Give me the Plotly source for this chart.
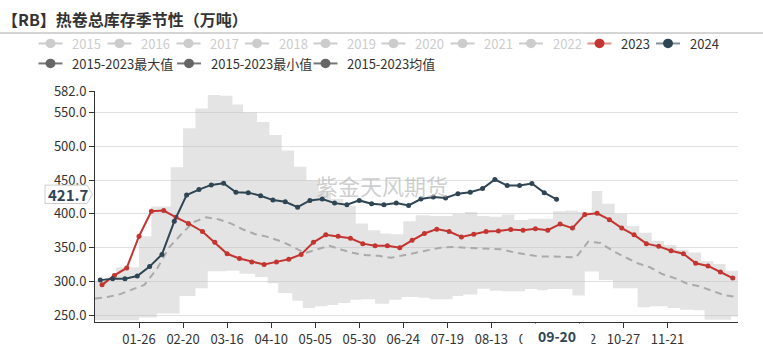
import plotly.graph_objects as go

# ---------------- data ----------------
YEAR = "2024-"   # seasonal axis on a leap-year calendar (MM-DD)

dates_2023 = ["01-05","01-12","01-19","01-26","02-02","02-09","02-16","02-23","03-02","03-09",
              "03-16","03-23","03-30","04-06","04-13","04-20","04-27","05-04","05-11","05-18",
              "05-25","06-01","06-08","06-15","06-22","06-29","07-06","07-13","07-20","07-27",
              "08-03","08-10","08-17","08-24","08-31","09-07","09-14","09-21","09-28","10-05",
              "10-12","10-19","10-26","11-02","11-09","11-16","11-23","11-30","12-07","12-14",
              "12-21","12-28"]
vals_2023 = [295, 309, 320, 367, 404, 405, 395, 386, 374, 358,
             341, 334, 329, 325, 329, 333, 340, 358, 369, 367,
             364, 356, 353, 353, 350, 361, 371, 377.5, 374, 366,
             370, 374, 374.6, 377, 376, 378, 376, 385, 379, 399,
             401, 391.5, 379, 369, 356, 352, 345.5, 341, 327, 323,
             314, 305]

dates_2024 = ["01-04","01-11","01-18","01-25","02-01","02-08","02-15","02-22","02-29","03-07",
              "03-14","03-21","03-28","04-04","04-11","04-18","04-25","05-02","05-09","05-16",
              "05-23","05-30","06-06","06-13","06-20","06-27","07-04","07-11","07-18","07-25",
              "08-01","08-08","08-15","08-22","08-29","09-05","09-12","09-19"]
vals_2024 = [302, 304, 304, 308, 322, 340, 389, 428, 436, 443,
             445.5, 432, 431.5, 427, 420.5, 418, 410, 420, 422, 416,
             413.5, 420, 415, 413.5, 416, 412.5, 422, 425, 423.5, 430,
             432, 437.5, 451, 442, 442, 445, 431.5, 421.7]

mean_dates = ["01-01","01-08","01-15","01-22","01-29","02-05","02-12","02-19","02-26","03-04",
              "03-11","03-18","03-25","04-01","04-08","04-15","04-22","04-29","05-06","05-13",
              "05-20","05-27","06-03","06-10","06-17","06-24","07-01","07-08","07-15","07-22",
              "07-29","08-05","08-12","08-19","08-26","09-02","09-09","09-16","09-23","09-30",
              "10-07","10-14","10-21","10-28","11-04","11-11","11-18","11-25","12-02","12-09",
              "12-16","12-23","12-30"]
mean_vals = [274.6, 277, 281, 287.5, 295, 318, 350, 370, 388, 395,
             392, 386, 377, 370, 366, 360, 352, 342, 347, 353,
             347, 342, 339, 338, 335, 339, 343, 347, 350, 351,
             350, 349, 348, 347.5, 343, 340, 337, 337, 336.5, 335.5,
             359, 357, 345, 336, 327, 321, 311, 305, 297, 293,
             286, 280, 277]

max_dates = ["01-01","01-13","01-26","02-02","02-13","02-20","02-27","03-05","03-12","03-19",
             "03-25","04-02","04-09","04-16","04-23","04-30","05-07","05-14","05-21","05-28",
             "06-04","06-11","06-17","06-24","07-01","07-09","07-22","07-29","08-05","08-12",
             "08-19","08-26","09-03","09-17","09-24","10-01","10-09","10-15","10-22","10-29",
             "11-05","11-12","11-19","11-26","12-03","12-10","12-17","12-24","12-31"]
max_vals = [301, 321, 367, 411, 469, 527, 556, 576, 575, 562,
            550, 536, 517, 494, 470, 450, 432, 422, 412, 386,
            376, 371, 370, 389, 398, 397, 400, 403, 397, 396,
            399, 391, 393, 404, 405, 403, 434, 415, 400, 382,
            372, 360, 354, 347, 343, 330, 326, 316, 316]

min_dates = ["01-01","01-26","02-05","02-18","02-27","03-05","03-16","03-23","04-01","04-08",
             "04-14","04-22","04-28","05-05","05-12","05-18","05-25","05-31","06-08","06-16",
             "06-23","07-03","07-09","07-22","07-28","08-05","08-12","08-19","09-01","09-08",
             "09-14","09-28","10-05","10-13","10-21","11-04","11-11","11-21","11-28","12-06",
             "12-12","12-27","12-31"]
min_vals = [242.5, 246.5, 252.6, 278.4, 290, 315, 316, 311.3, 306.6, 297.2,
            283, 271.4, 260.6, 263.4, 265.3, 268, 272.8, 273.7, 267, 273,
            277, 276, 273.7, 278.4, 280.8, 289.2, 286.4, 285.4, 288.7, 286.9,
            288.7, 279.3, 314.6, 302, 290, 262, 263.4, 260.6, 258.2, 257.3,
            243.2, 248, 248]

x_tick_labels = ["01-26","02-20","03-16","04-10","05-05","05-30","06-24","07-19",
                 "08-13","09-07","10-02","10-27","11-21"]
y_tick_vals = [250, 300, 350, 400, 450, 500, 550, 582]

legend_row1 = ["2015","2016","2017","2018","2019","2020","2021","2022","2023","2024"]
legend_row2 = ["2015-2023最大值", "2015-2023最小值", "2015-2023均值"]

title_text = "【RB】热卷总库存季节性（万吨）"
watermark = "紫金天风期货"
pointer_x = "09-20"
pointer_y = vals_2024[-1]

# ---------------- styles ----------------
RED = "#c23531"
DARK = "#2f4554"
FONT = "Noto Sans CJK SC"
W, H = 763, 360
ML, MR, MT, MB = 95, 25, 91, 26
PW, PH = W - ML - MR, H - MT - MB


def d(lst):
    return [YEAR + m for m in lst]


def xp(px):
    return (px - ML) / PW


def yp(py):
    return (H - MB - py) / PH


fig = go.Figure()

fig.add_trace(go.Scatter(x=d(min_dates), y=min_vals, mode="lines", line_shape="hv",
                         line=dict(width=0, color="rgba(0,0,0,0)"), hoverinfo="skip",
                         showlegend=False))
fig.add_trace(go.Scatter(x=d(max_dates), y=max_vals, mode="lines", line_shape="hv",
                         line=dict(width=0, color="rgba(0,0,0,0)"), fill="tonexty",
                         fillcolor="rgba(190,190,190,0.42)", hoverinfo="skip",
                         showlegend=False))
fig.add_trace(go.Scatter(x=d(mean_dates), y=mean_vals, mode="lines",
                         line=dict(color="#aaaaaa", width=2, dash="7px,5px"),
                         hoverinfo="skip", showlegend=False))
fig.add_trace(go.Scatter(x=d(dates_2023), y=vals_2023, mode="lines+markers",
                         line=dict(color=RED, width=2), marker=dict(color=RED, size=5),
                         hoverinfo="skip", showlegend=False))
fig.add_trace(go.Scatter(x=d(dates_2024), y=vals_2024, mode="lines+markers",
                         line=dict(color=DARK, width=2), marker=dict(color=DARK, size=5),
                         hoverinfo="skip", showlegend=False))

shapes = []
annotations = []

# title + separator
annotations.append(dict(text="<b>" + title_text + "</b>", xref="paper", yref="paper",
                        x=xp(0), y=yp(15), xanchor="left", yanchor="middle", showarrow=False,
                        font=dict(family=FONT, size=16, color="#333333")))
shapes.append(dict(type="line", xref="paper", yref="paper", x0=xp(0), x1=xp(W),
                   y0=yp(30), y1=yp(30), line=dict(color="#aaaaaa", width=1)))


def legend_item(text, tx, ty, line_col, dot_col, text_col):
    cx = tx - 19.5
    shapes.append(dict(type="line", xref="paper", yref="paper", x0=xp(cx - 12), x1=xp(cx + 12),
                       y0=yp(ty), y1=yp(ty), line=dict(color=line_col, width=2)))
    shapes.append(dict(type="circle", xref="paper", yref="paper", x0=xp(cx - 5), x1=xp(cx + 5),
                       y0=yp(ty + 5), y1=yp(ty - 5), fillcolor=dot_col,
                       line=dict(color=dot_col, width=0)))
    annotations.append(dict(text=text, xref="paper", yref="paper", x=xp(tx), y=yp(ty),
                            xanchor="left", yanchor="middle", showarrow=False,
                            font=dict(family=FONT, size=13, color=text_col)))


row1_x = [70, 139, 208, 276.5, 345, 413, 482, 550.5, 619, 687.5]
for name, tx in zip(legend_row1, row1_x):
    if name == "2023":
        legend_item(name, tx, 41, "rgba(194,53,49,0.55)", RED, "#333333")
    elif name == "2024":
        legend_item(name, tx, 41, "rgba(47,69,84,0.6)", DARK, "#333333")
    else:
        legend_item(name, tx, 41, "#cccccc", "#cccccc", "#cccccc")
for name, tx in zip(legend_row2, [70, 208.5, 345]):
    legend_item(name, tx, 62, "#777777", "#666666", "#333333")

# watermark
annotations.append(dict(text=watermark, xref="paper", yref="paper", x=xp(382), y=yp(190),
                        xanchor="center", yanchor="middle", showarrow=False,
                        font=dict(family=FONT, size=22, color="rgba(190,190,190,0.75)")))

# y pointer label
py_lab = 199.6
shapes.append(dict(type="path", xref="paper", yref="paper",
                   path="M {a},{b} L {c},{b} L {e},{f} L {c},{g} L {a},{g} Z".format(
                       a=xp(45), b=yp(190), c=xp(87), e=xp(92.5), f=yp(py_lab), g=yp(209.3)),
                   fillcolor="white", line=dict(color="#cccccc", width=1)))
annotations.append(dict(text="<b>%.1f</b>" % pointer_y, xref="paper", yref="paper",
                        x=xp(67.5), y=yp(py_lab), xanchor="center", yanchor="middle",
                        showarrow=False, font=dict(family=FONT, size=15, color=DARK)))

# x pointer label
annotations.append(dict(text="<b>" + pointer_x + "</b>", xref="x", yref="paper",
                        x=YEAR + dates_2024[-1], y=yp(348.5), xanchor="center", yanchor="middle",
                        showarrow=False, width=66, height=22, bgcolor="white",
                        font=dict(family=FONT, size=14, color=DARK)))

fig.update_layout(
    width=W, height=H,
    margin=dict(l=ML, r=MR, t=MT, b=MB),
    paper_bgcolor="white", plot_bgcolor="white",
    showlegend=False,
    shapes=shapes, annotations=annotations,
    font=dict(family=FONT, size=13, color="#333333"),
    xaxis=dict(type="date", range=[YEAR + "01-01", YEAR + "12-31"],
               tickmode="array", tickvals=d(x_tick_labels), ticktext=x_tick_labels,
               showgrid=False, zeroline=False, showline=True, linecolor="#333333",
               linewidth=1, ticks="outside", ticklen=5, tickcolor="#333333",
               tickfont=dict(family=FONT, size=13, color="#333333"), fixedrange=True),
    yaxis=dict(range=[240, 582], tickmode="array", tickvals=y_tick_vals,
               ticktext=["%.1f" % v for v in y_tick_vals],
               showgrid=True, gridcolor="#e0e0e0", gridwidth=1, zeroline=False,
               showline=True, linecolor="#333333", linewidth=1, ticks="outside",
               ticklen=5, tickcolor="#333333",
               tickfont=dict(family=FONT, size=13, color="#333333"), fixedrange=True),
    hovermode=False,
)

fig.write_html("out.html", config={"displayModeBar": False},
               post_script="document.body.style.margin='0';document.body.style.padding='0';")
